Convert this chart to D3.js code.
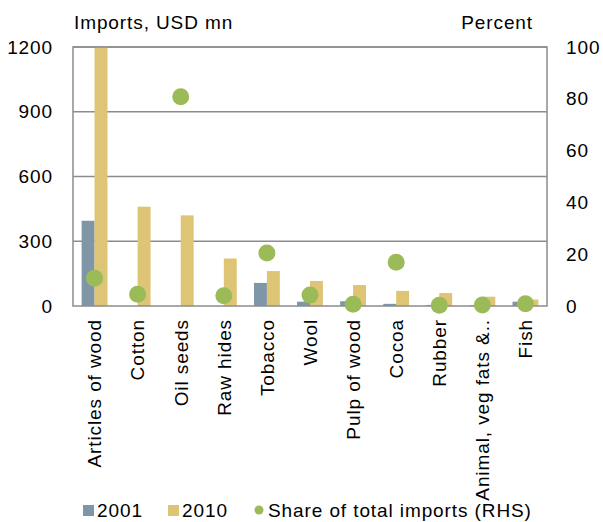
<!DOCTYPE html>
<html><head><meta charset="utf-8">
<script src="https://cdn.jsdelivr.net/npm/d3@7"></script>
<style>
body{margin:0;background:#fff;}
text{font-family:"Liberation Sans",Arial,sans-serif;fill:#000;}
</style></head>
<body><svg id="c" width="603" height="522"></svg>
<script>
const categories = ["Articles of wood","Cotton","Oil seeds","Raw hides","Tobacco","Wool","Pulp of wood","Cocoa","Rubber","Animal, veg fats &..","Fish"];
const imports2001 = [395, 0, 0, 0, 107, 20, 22, 10, 5, 3, 20];
const imports2010 = [1200, 460, 420, 220, 162, 116, 97, 70, 60, 43, 30];
const shareTotal = [10.7, 4.5, 80.8, 4.0, 20.5, 4.2, 0.7, 16.9, 0.3, 0.4, 0.9];
const leftTicks = [0, 300, 600, 900, 1200];
const rightTicks = [0, 20, 40, 60, 80, 100];

const C2001 = "#7f96a7", C2010 = "#dec575", CDOT = "#9bbb59", CGRID = "#8c8c8c";
const L = 73, R = 547, T = 47, B = 306;
const svg = d3.select("#c");
const fs = "19px", ls = "0.9px";

const x = d3.scaleBand().domain(categories).range([L, R]).paddingInner(0.4).paddingOuter(0.2);
const xs = d3.scaleBand().domain(["2001","2010"]).range([0, x.bandwidth()]);
const yL = d3.scaleLinear().domain([0, 1200]).range([B, T]);
const yR = d3.scaleLinear().domain([0, 100]).range([B, T]);
const xc = d3.scaleBand().domain(categories).range([L, R]);

// gridlines
svg.append("g").selectAll("line").data(leftTicks.filter(d => d > 0)).join("line")
  .attr("x1", L).attr("x2", R).attr("y1", d => yL(d)).attr("y2", d => yL(d))
  .attr("stroke", CGRID).attr("stroke-width", 1.3);

// bars
const g = svg.append("g");
g.selectAll("rect.a").data(categories).join("rect").attr("class","a")
  .attr("x", d => x(d) + xs("2001")).attr("width", xs.bandwidth())
  .attr("y", (d,i) => yL(imports2001[i])).attr("height", (d,i) => B - yL(imports2001[i]))
  .attr("fill", C2001);
g.selectAll("rect.b").data(categories).join("rect").attr("class","b")
  .attr("x", d => x(d) + xs("2010")).attr("width", xs.bandwidth())
  .attr("y", (d,i) => yL(imports2010[i])).attr("height", (d,i) => B - yL(imports2010[i]))
  .attr("fill", C2010);

// frame
svg.append("rect").attr("x", L).attr("y", T).attr("width", R - L).attr("height", B - T)
  .attr("fill", "none").attr("stroke", CGRID).attr("stroke-width", 1.5);

// dots
svg.append("g").selectAll("circle").data(categories).join("circle")
  .attr("cx", d => xc(d) + xc.bandwidth()/2).attr("cy", (d,i) => yR(shareTotal[i]))
  .attr("r", 8.5).attr("fill", CDOT);

// left axis
const axL = d3.axisLeft(yL).tickValues(leftTicks).tickFormat(d3.format("d")).tickSize(0).tickPadding(20);
const gl = svg.append("g").attr("transform", `translate(${L},0)`).call(axL);
gl.select(".domain").remove();
gl.selectAll("text").style("font-size", fs).style("letter-spacing", ls).attr("font-family", null);

const axR = d3.axisRight(yR).tickValues(rightTicks).tickFormat(d3.format("d")).tickSize(0).tickPadding(19);
const gr = svg.append("g").attr("transform", `translate(${R},0)`).call(axR);
gr.select(".domain").remove();
gr.selectAll("text").style("font-size", fs).style("letter-spacing", ls).attr("font-family", null);

// x labels
svg.append("g").selectAll("text").data(categories).join("text")
  .attr("transform", d => `translate(${xc(d) + xc.bandwidth()/2},319) rotate(-90)`)
  .attr("text-anchor", "end").attr("dy", "0.36em")
  .style("font-size", fs).style("letter-spacing", ls).text(d => d);

// axis titles
svg.append("text").attr("x", 74).attr("y", 29).style("font-size", fs).style("letter-spacing", ls).text("Imports, USD mn");
svg.append("text").attr("x", 533).attr("y", 29).attr("text-anchor", "end").style("font-size", fs).style("letter-spacing", ls).text("Percent");

// legend
const ly = 510;
const lg = svg.append("g");
lg.append("rect").attr("x", 83).attr("y", ly - 5).attr("width", 11).attr("height", 11).attr("fill", C2001);
lg.append("text").attr("x", 97).attr("y", ly).attr("dy", "0.36em").style("font-size", fs).style("letter-spacing", ls).text("2001");
lg.append("rect").attr("x", 168).attr("y", ly - 5).attr("width", 11).attr("height", 11).attr("fill", C2010);
lg.append("text").attr("x", 182).attr("y", ly).attr("dy", "0.36em").style("font-size", fs).style("letter-spacing", ls).text("2010");
lg.append("circle").attr("cx", 259).attr("cy", ly).attr("r", 4.5).attr("fill", CDOT);
lg.append("text").attr("x", 268).attr("y", ly).attr("dy", "0.36em").style("font-size", fs).style("letter-spacing", ls).text("Share of total imports (RHS)");
</script></body></html>
